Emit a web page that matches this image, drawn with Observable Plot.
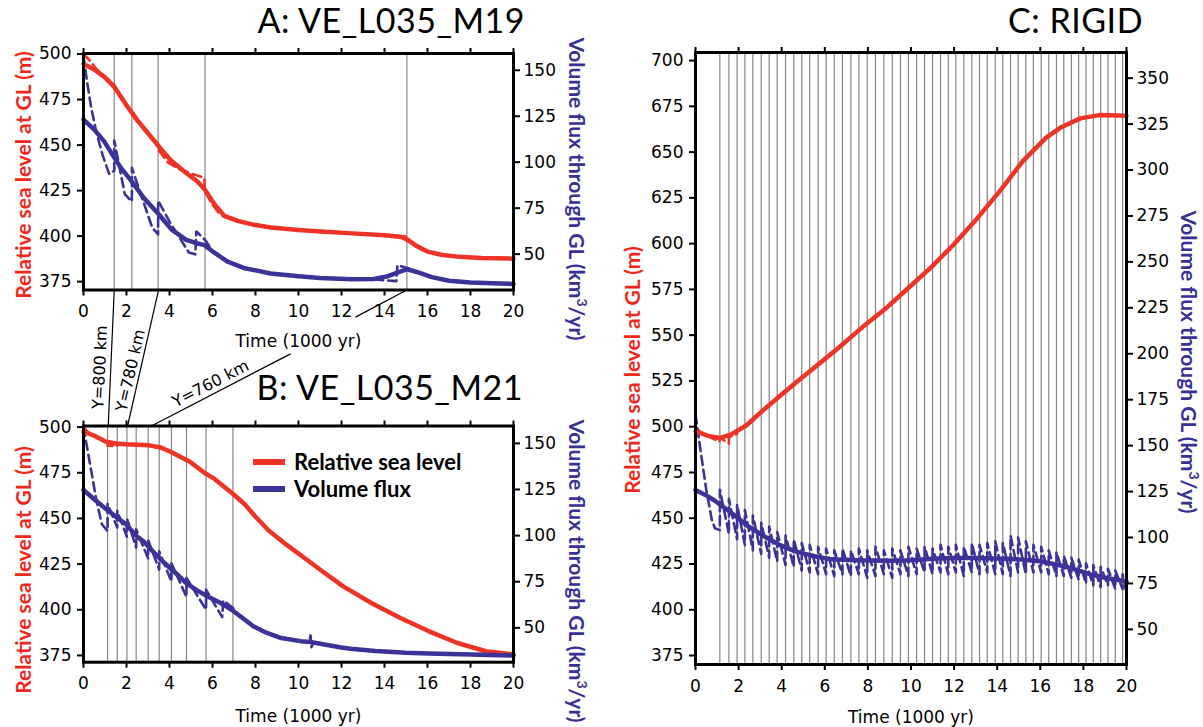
<!DOCTYPE html>
<html><head><meta charset="utf-8">
<script src="https://cdn.jsdelivr.net/npm/d3@7"></script>
<script src="https://cdn.jsdelivr.net/npm/@observablehq/plot@0.6"></script>
<style>
body{margin:0;background:#fff;}
#fig{position:relative;width:1203px;height:727px;overflow:hidden;background:#fff;}
.panel{position:absolute;}
.title{position:absolute;font-family:Lato,sans-serif;font-size:34px;letter-spacing:0.5px;color:#000;white-space:nowrap;line-height:28px;z-index:5;}
.ylab{position:absolute;font-family:Lato,sans-serif;font-weight:bold;font-size:21px;white-space:nowrap;line-height:22px;z-index:5;}
.leg{position:absolute;font-family:Lato,sans-serif;font-weight:bold;font-size:22px;line-height:24px;white-space:nowrap;color:#000;z-index:5;}
.sw{position:absolute;height:6px;width:32px;z-index:5;}
</style></head><body><div id="fig"></div>
<script>
const RED = "#ef3326", BLUE = "#3b3397", RED_LAB = "#f0281c", BLUE_LAB = "#3a2f96";

// ---- ticks ----
const xTicks = [0,2,4,6,8,10,12,14,16,18,20];
const levelTicksAB = [375,400,425,450,475,500];
const levelTicksC = [375,400,425,450,475,500,525,550,575,600,625,650,675,700];
const fluxTicksAB = [50,75,100,125,150];
const fluxTicksC = [50,75,100,125,150,175,200,225,250,275,300,325,350];

// ---- grounding-line crossing times (vertical lines), kyr ----
const gridA = [1.43, 2.25, 3.47, 5.65, 15.04];
const gridB = [1.12, 1.57, 2.02, 2.45, 3.01, 3.52, 4.09, 4.79, 5.70, 6.95];
const gridC = [1.13,1.55,1.93,2.29,2.66,3.05,3.42,3.79,4.18,4.56,4.93,5.30,5.69,6.06,6.44,6.82,7.21,7.58,7.97,8.35,8.74,9.13,9.51,9.88,10.26,10.63,11.00,11.37,11.73,12.08,12.45,12.82,13.18,13.54,13.91,14.26,14.62,14.97,15.33,15.68,16.04,16.39,16.75,17.09,17.44,17.78,18.12,18.46,18.80,19.14,19.48,19.82];

// ---- Panel A: relative sea level (m) and volume flux (km3/yr) ----
const seaA = [[0,494.5],[0.5,491.5],[1.0,487.2],[1.45,481.7],[2.07,470.7],[2.53,463.3],[3.0,456.5],[3.54,448.7],[4.08,441.4],[4.85,434],[5.3,430],[5.63,425.8],[6.09,417.5],[6.55,411.1],[7.17,408.4],[7.94,406.2],[8.72,404.7],[10,403.4],[11.04,402.5],[12.5,401.5],[14,400.5],[14.8,399.5],[15.1,397.8],[15.5,394.5],[16,391.5],[16.7,389.6],[17.5,388.6],[18.5,388],[20,387.6]];
const seaA_raw = [[0,500],[0.25,497],[0.6,491.8],[1.0,487.6],[1.43,483.2],[1.43,481],[2.07,470.4],[2.25,467.9],[2.25,466.2],[3.0,456.8],[3.47,450.6],[3.47,447.6],[3.95,440.2],[4.5,436.6],[5.0,434.4],[5.62,432],[5.65,424.5],[6.0,417.2],[6.3,412.6],[6.55,410.6],[6.8,409.6],[7.17,408.4],[7.94,406.2],[8.72,404.7],[10,403.4],[11.04,402.5],[12.5,401.5],[14,400.7],[15.0,399.8],[15.04,397.6],[15.5,394.5],[16,391.5],[16.7,389.6],[17.5,388.6],[18.5,388],[20,387.6]];
const fluxA = [[0,123.2],[0.5,117.7],[0.96,111.3],[1.3,104.9],[1.74,96.9],[2.28,89.0],[2.8,80.6],[3.5,71.7],[4.1,63.3],[4.78,57.8],[5.3,55.8],[5.63,54.9],[6.07,50.9],[6.7,45.9],[7.45,42.5],[8.7,39.5],[10,38.0],[11,37.0],[12.5,36.3],[13.5,36.5],[14.1,37.8],[14.6,40.0],[15.05,41.8],[15.5,40.3],[16.2,37.5],[17,35.5],[18,34.6],[19,34.1],[20,33.8]];
const fluxA_raw = [[0,157.8],[0.15,144.9],[0.35,130.1],[0.6,116.2],[0.9,103.4],[1.2,93.5],[1.43,95.4],[1.43,111.8],[1.92,82.6],[2.25,78.6],[2.25,96.9],[3.2,64.3],[3.47,60.8],[3.47,79.1],[4.0,67.7],[4.9,50.9],[5.2,49.9],[5.25,62.3],[5.65,57.8],[6.0,51.9],[6.7,45.9],[7.45,42.5],[8.7,39.5],[10,38.0],[11,37.0],[12.5,36.3],[13.5,36.2],[14.55,35.3],[14.6,44.0],[15.05,42.5],[15.5,40.3],[16.2,37.5],[17,35.5],[18,34.6],[19,34.1],[20,33.8]];

// ---- Panel B ----
const seaB = [[0,497.5],[0.46,495.5],[1.0,492.2],[1.5,491],[1.96,490.6],[3.05,490],[3.6,488.8],[4.07,486.4],[4.95,481],[5.62,475],[6.11,471.5],[6.97,463.2],[7.5,457.8],[7.95,451.6],[8.6,443.5],[9.45,435.5],[10.2,429],[11.06,421.5],[12.08,412.8],[13.41,403.6],[14.74,395.5],[16.07,388.2],[17.39,381.8],[18.72,377.3],[20,375.5]];
const seaB_raw = [[0,499.8],[0.3,496.2],[0.7,493.8],[1.12,491.6],[1.12,489.8],[1.57,489.6],[1.57,491.2],[2.02,490.6],[3.05,490.2],[3.52,489.2],[3.52,488.4],[4.07,486.6],[4.95,481],[5.62,475],[6.11,471.5],[6.97,463.2],[7.5,457.8],[7.95,451.6],[8.6,443.5],[9.45,435.5],[10.2,429],[11.06,421.5],[12.08,412.8],[13.41,403.6],[14.74,395.5],[16.07,388.2],[17.39,381.8],[18.72,377.3],[20,375.5]];
const fluxB = [[0,124.7],[0.5,119.7],[0.96,115.2],[1.5,110.3],[1.96,106.3],[2.5,99.4],[2.79,96.9],[3.3,90.5],[3.78,85.0],[4.3,79.6],[4.78,74.3],[5.3,70.2],[5.78,67.0],[6.4,63.3],[6.95,59.3],[7.4,55.3],[7.9,50.9],[8.5,47.4],[9.2,44.5],[10.1,42.8],[10.56,42.3],[11.92,39.5],[12.41,38.7],[13.58,37.4],[15,36.5],[16.07,36.1],[18,35.5],[20,35.0]];
const fluxB_raw = [[0,158.8],[0.3,139.0],[0.6,119.2],[0.85,106.3],[1.12,102.4],[1.12,117.2],[1.57,104.4],[1.57,113.3],[2.02,99.4],[2.02,109.3],[2.45,93.5],[2.45,103.4],[3.01,87.5],[3.01,97.4],[3.52,81.6],[3.52,91.5],[4.09,75.1],[4.09,85.0],[4.79,66.7],[4.79,77.1],[5.70,59.8],[5.70,70.7],[6.45,55.8],[6.5,64.8],[6.95,60.8],[7.3,55.8],[7.9,50.9],[8.5,47.4],[9.2,44.5],[10.1,42.8],[10.5,42.4],[10.56,45.9],[10.6,39.5],[10.7,42.2],[11.92,39.5],[12.41,38.7],[13.58,37.4],[15,36.5],[16.07,36.1],[18,35.5],[20,35.0]];

// ---- Panel C ----
const seaC = [[0,497.5],[0.59,495],[1.12,493.8],[1.66,495.8],[2.37,500.8],[3.08,508.4],[3.97,517.3],[4.86,526.1],[5.75,534.5],[6.64,543.1],[7.71,554],[8.78,564.1],[9.85,575.5],[10.92,586.9],[11.99,599.6],[13.05,613.5],[14.12,628.7],[15.19,645.1],[16.26,657.8],[16.97,663.6],[17.86,668.4],[18.75,670.2],[20,669.9]];
const seaC_raw = [[0,499],[0.4,496],[0.9,493],[1.12,491.8],[1.13,494],[1.55,490.8],[1.55,494.2],[1.93,496.2],[1.93,497.5],[2.37,500.6],[3.08,508.2],[3.97,517.5],[4.86,526.1],[5.75,534.5],[6.64,543.1],[7.71,554],[8.78,564.1],[9.85,575.5],[10.92,586.9],[11.99,599.6],[13.05,613.5],[14.12,628.7],[15.19,645.1],[16.26,657.8],[16.97,663.6],[17.86,668.4],[18.75,670.2],[20,669.9]];
const fluxC = [[0,125.9],[0.5,122.9],[0.9,120.0],[1.6,114.0],[2.4,106.5],[3.2,100.5],[3.9,96.0],[4.6,92.6],[5.4,90.1],[6.3,88.1],[7.5,87.6],[9,87.4],[10,87.6],[11,88.4],[12,88.9],[13,88.9],[14,88.6],[15,88.1],[16,87.1],[16.8,85.1],[17.5,83.1],[18.3,80.1],[19,78.1],[20,76.1]];
const fluxC_raw = [[0,167],[0.25,146],[0.5,126],[0.75,110],[0.9,105],[1.13,104],
[1.13,126],[1.55,102],[1.55,121],[1.93,99],[1.93,118],[2.29,96],[2.29,115],[2.66,93],[2.66,112],[3.05,91],[3.05,108],[3.42,89],[3.42,106],[3.79,87],[3.79,103],[4.18,85],[4.18,101],[4.56,84],[4.56,99],[4.93,82],[4.93,97],[5.30,81],[5.30,96],[5.69,80],[5.69,95],[6.06,80],[6.06,94],[6.44,79],[6.44,93],[6.82,80],[6.82,94],[7.21,79],[7.21,93],[7.58,80],[7.58,94],[7.97,78],[7.97,93],[8.35,79],[8.35,95],[8.74,80],[8.74,93],[9.13,78],[9.13,94],[9.51,80],[9.51,93],[9.88,79],[9.88,95],[10.26,80],[10.26,94],[10.63,81],[10.63,95],[11.00,80],[11.00,94],[11.37,81],[11.37,96],[11.73,80],[11.73,95],[12.08,81],[12.08,96],[12.45,79],[12.45,95],[12.82,81],[12.82,97],[13.18,80],[13.18,96],[13.54,81],[13.54,97],[13.91,80],[13.91,98],[14.26,80],[14.26,97],[14.62,79],[14.62,101],[14.97,81],[14.97,100],[15.33,80],[15.33,98],[15.68,81],[15.68,96],[16.04,81],[16.04,95],[16.39,80],[16.39,93],[16.75,79],[16.75,92],[17.09,79],[17.09,90],[17.44,78],[17.44,89],[17.78,77],[17.78,88],[18.12,75],[18.12,86],[18.46,74],[18.46,85],[18.80,73],[18.80,84],[19.14,74],[19.14,83],[19.48,72],[19.48,82],[19.82,72],[19.82,80],[20,70]];

// ---- leader annotations (panel B time / level units) ----
const leaderLines = [
  {t1:1.43, v1:575, t2:1.15, v2:500.6},
  {t1:3.49, v1:575, t2:2.05, v2:500.6},
  {t1:15.04, v1:575, t2:12.65, v2:560.2},
  {t1:9.63, v1:540.1, t2:3.16, v2:500.6}
];
const leaderLabels = [
  {text:"Y=800 km", t:0.77, v:532.8, angle:-87.4},
  {text:"Y=780 km", t:2.19, v:531.0, angle:-77},
  {text:"Y=760 km", t:5.91, v:523.7, angle:-27.2}
];

const toLevelAB = f => 339.6 + 1.01 * f;
const toLevelC = f => 339.1 + 1.0037 * f;

function makePanel(o) {
  const toL = o.toLevel;
  const fluxLabel = new Map(o.fluxTicks.map(f => [toL(f), String(f)]));
  const ax = {tickSize: 6, strokeWidth: 2, fontSize: 17};
  return Plot.plot({
    width: o.width, height: o.height,
    marginLeft: o.ml, marginRight: o.mr, marginTop: o.mt, marginBottom: o.mb,
    x: {domain: [0, 20]},
    y: {domain: o.yDomain},
    style: {background: "transparent", fontFamily: "'DejaVu Sans', Verdana, sans-serif", fontSize: "17px", overflow: "visible", color: "#000"},
    marks: [
      Plot.ruleX(o.grid, {stroke: "#858585", strokeWidth: 1.2}),
      Plot.line(o.seaRaw, {x: d => d[0], y: d => d[1], stroke: RED, strokeWidth: 2.6, strokeDasharray: "9,5"}),
      Plot.line(o.fluxRaw, {x: d => d[0], y: d => toL(d[1]), stroke: BLUE, strokeWidth: 2.6, strokeDasharray: "9,5"}),
      Plot.line(o.sea, {x: d => d[0], y: d => d[1], stroke: RED, strokeWidth: 4.5}),
      Plot.line(o.flux, {x: d => d[0], y: d => toL(d[1]), stroke: BLUE, strokeWidth: 4.5}),
      Plot.frame({stroke: "#000", strokeWidth: 3}),
      Plot.axisX(xTicks, {...ax, anchor: "bottom", tickPadding: 9, label: "Time (1000 yr)", labelAnchor: "center", labelArrow: false, labelOffset: o.xLabelOffset}),
      Plot.axisX(xTicks, {...ax, anchor: "top", tickFormat: () => "", label: null}),
      Plot.axisY(o.levelTicks, {...ax, anchor: "left", tickPadding: 6, label: null}),
      Plot.axisY(o.fluxTicks.map(toL), {...ax, anchor: "right", tickPadding: 4, tickFormat: d => fluxLabel.get(d), label: null}),
      ...(o.extra || [])
    ]
  });
}

const fig = document.getElementById("fig");
function place(el, left, top) {
  el.classList.add("panel");
  el.style.left = left + "px"; el.style.top = top + "px";
  fig.appendChild(el);
}

place(makePanel({width: 600, height: 360, ml: 83, mr: 87, mt: 53, mb: 70.5, yDomain: [370.4, 500.3],
  grid: gridA, sea: seaA, seaRaw: seaA_raw, flux: fluxA, fluxRaw: fluxA_raw, toLevel: toLevelAB,
  levelTicks: levelTicksAB, fluxTicks: fluxTicksAB, xLabelOffset: 57}), 0, 0);

place(makePanel({width: 600, height: 442, ml: 83, mr: 87, mt: 140.5, mb: 65.3, yDomain: [371.3, 500.6],
  grid: gridB, sea: seaB, seaRaw: seaB_raw, flux: fluxB, fluxRaw: fluxB_raw, toLevel: toLevelAB,
  levelTicks: levelTicksAB, fluxTicks: fluxTicksAB, xLabelOffset: 60,
  extra: [
    Plot.link(leaderLines, {x1: "t1", y1: "v1", x2: "t2", y2: "v2", stroke: "#000", strokeWidth: 1.2}),
    Plot.text(leaderLabels, {x: "t", y: "v", text: "text", rotate: "angle", fontSize: 16, fill: "#000"})
  ]}), 0, 285);

place(makePanel({width: 603, height: 727, ml: 95, mr: 77, mt: 52, mb: 63, yDomain: [370.1, 704.4],
  grid: gridC, sea: seaC, seaRaw: seaC_raw, flux: fluxC, fluxRaw: fluxC_raw, toLevel: toLevelC,
  levelTicks: levelTicksC, fluxTicks: fluxTicksC, xLabelOffset: 58}), 600, 0);

// ---- titles / axis titles / legend (HTML text) ----
function addDiv(cls, html, css) {
  const d = document.createElement("div");
  d.className = cls; d.innerHTML = html;
  Object.assign(d.style, css);
  fig.appendChild(d);
  return d;
}
const panelTitles = [["A: VE_L035_M19", 678, 6], ["B: VE_L035_M21", 680, 373], ["C: RIGID", 60, 6]];
panelTitles.forEach(([t, r, top]) => addDiv("title", t, {right: r + "px", top: top + "px"}));

const sup3 = "<sup style='font-size:14px;line-height:0'>3</sup>";
const yTitles = [
  ["Relative sea level at GL (m)", RED_LAB, 23, 175, -90],
  ["Relative sea level at GL (m)", RED_LAB, 23, 570, -90],
  ["Relative sea level at GL (m)", RED_LAB, 632, 370, -90],
  ["Volume flux through GL (km" + sup3 + "/yr)", BLUE_LAB, 577, 189, 90],
  ["Volume flux through GL (km" + sup3 + "/yr)", BLUE_LAB, 577, 571, 90],
  ["Volume flux through GL (km" + sup3 + "/yr)", BLUE_LAB, 1189, 362, 90]
];
yTitles.forEach(([t, c, x, y, a]) => addDiv("ylab", t, {left: x + "px", top: y + "px", color: c,
  transform: `translate(-50%,-50%) rotate(${a}deg)`}));

const legendItems = [["Relative sea level", RED, 462], ["Volume flux", BLUE, 488.5]];
legendItems.forEach(([t, c, y]) => {
  addDiv("sw", "", {left: "253px", top: (y - 3) + "px", background: c});
  addDiv("leg", t, {left: "294px", top: (y - 12) + "px"});
});
</script>
</body></html>
